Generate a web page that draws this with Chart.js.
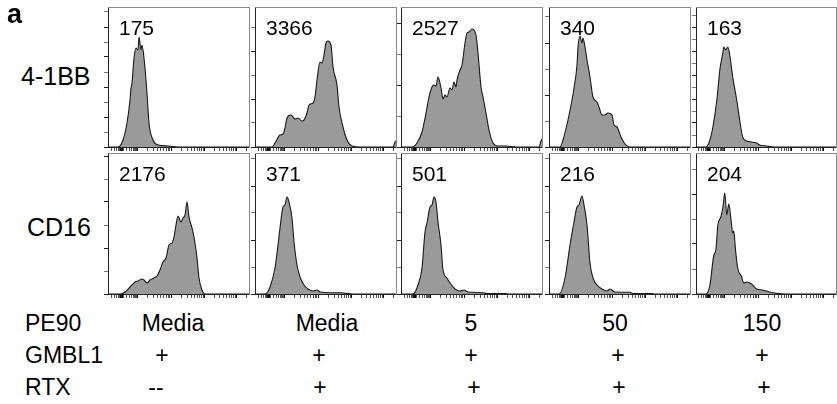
<!DOCTYPE html>
<html>
<head>
<meta charset="utf-8">
<script src="https://cdn.jsdelivr.net/npm/chart.js@4.4.1/dist/chart.umd.min.js"></script>
<style>
  html, body { margin:0; padding:0; background:#fff; overflow:hidden; }
  body { width:837px; height:404px; position:relative; font-family:"Liberation Sans", Arial, Helvetica, sans-serif; color:#000; }
  .t { position:absolute; white-space:nowrap; }
  .p { position:absolute; }
</style>
</head>
<body>
<script>
// ---------- DATA ----------
const markers = ['4-1BB', 'CD16'];
const pe90 = ['Media', 'Media', '5', '50', '150'];
const gmbl1 = ['+', '+', '+', '+', '+'];
const rtx = ['--', '+', '+', '+', '+'];
const mfi41BB = [175, 3366, 2527, 340, 163];
const mfiCD16 = [2176, 371, 501, 216, 204];

// histogram channels (x) and event counts (y), 4-1BB row
const bb1Ch = [0,10,15,19,22,23,24,26,28,30,31,33,34,36,39,41,45,50,60,72,141];
const bb1Ct = [0,0,7,24,47,59,64,89,99,97,110,97,102,89,54,24,7,2,1,0,0];
const bb2Ch = [0,17,20,25,28,30,32,36,38,40,43,47,49,52,54,58,60,62,65,67,69,71,73,76,78,82,84,88,92,97,105,138,140,141];
const bb2Ct = [0,0,4,12,13,19,29,32,30,28,29,26,27,34,42,44,50,67,85,84,92,104,106,102,80,62,40,20,7,1,0,0,5,6];
const bb3Ch = [0,11,16,21,25,28,31,33,35,37,40,42,44,46,49,51,53,55,56,59,61,64,66,68,71,73,75,77,80,82,85,88,92,97,105,115,138,140,141];
const bb3Ct = [0,0,4,15,34,50,60,62,61,70,59,48,52,50,59,57,65,60,67,77,82,104,114,115,118,117,112,94,60,50,34,17,4,1,1,0,0,6,8];
const bb4Ch = [0,11,14,19,23,25,28,29,31,33,34,36,38,41,44,48,50,53,56,59,63,65,68,72,76,81,141];
const bb4Ct = [0,0,7,27,47,59,82,100,111,104,109,100,87,70,50,45,40,32,32,34,32,22,20,10,3,0,0];
const bb5Ch = [0,10,14,17,21,24,27,28,30,32,34,37,41,44,47,51,56,61,64,71,79,141];
const bb5Ct = [0,0,7,20,47,77,94,100,97,100,92,70,47,27,10,6,5,4,2,1,0,0];

// CD16 row
const cd1Ch = [0,12,17,22,27,30,34,36,39,42,46,49,52,55,58,61,64,66,68,70,73,75,77,79,81,84,86,89,91,94,97,141];
const cd1Ct = [0,0,2,7,12,13,15,14,11,14,16,18,24,32,36,49,51,57,69,78,72,76,79,92,77,66,57,36,16,4,0,0];
const cd2Ch = [0,10,15,20,23,25,28,30,32,34,37,39,42,45,49,53,58,62,65,78,85,98,141];
const cd2Ct = [0,0,7,26,49,66,87,89,97,92,76,52,29,17,9,5,3,4,2,1.3,1.3,0,0];
const cd3Ch = [0,12,17,21,24,26,29,31,33,35,37,40,42,46,49,54,59,63,67,82,86,97,104,108,141];
const cd3Ct = [0,0,9,26,62,71,87,89,97,92,72,49,24,16,11,5,3,4,2,1.3,0.5,0.5,0.5,0,0];
const cd4Ch = [0,10,16,21,25,28,30,33,35,38,41,44,48,53,58,61,66,81,84,98,103,106,141];
const cd4Ct = [0,0,16,49,72,87,89,98,89,69,31,16,9,5,3,5,2,1.7,0.5,0.5,0.5,0,0];
const cd5Ch = [0,10,14,18,20,22,25,27,29,31,33,35,37,38,40,42,46,48,51,56,61,67,74,81,90,141];
const cd5Ct = [0,0,9,39,44,69,77,86,101,79,90,77,61,63,42,26,17,11,12,10,5,4,2,0.7,0,0];

// axis ticks (channel units): biexponential-style x ticks
const xMajorTicks = [13, 29, 63, 96, 128];
const xMinorTicks = [3,6,8,10,11,12,15,18,21,23,25,26,27,28,
  39,45,49,52,55,58,60,61,
  73,79,83,86,89,91,93,95,
  106,111,115,118,121,123,125,127,
  138];
const yTickStep = [15, 24, 31, 26, 12, 23, 27, 27, 27, 25];

// ---------- LAYOUT ----------
const colLeft = [108, 255, 401, 549, 696];
const colWidth = [141, 141, 141, 141, 140];
const rowTop = [7, 153];
const rowHeight = [140, 141];
const TICK = 4;

const histCh = [[bb1Ch,bb2Ch,bb3Ch,bb4Ch,bb5Ch],[cd1Ch,cd2Ch,cd3Ch,cd4Ch,cd5Ch]];
const histCt = [[bb1Ct,bb2Ct,bb3Ct,bb4Ct,bb5Ct],[cd1Ct,cd2Ct,cd3Ct,cd4Ct,cd5Ct]];
const mfis = [mfi41BB, mfiCD16];

function addText(str, x, baseline, size, opts) {
  opts = opts || {};
  const d = document.createElement('div');
  d.className = 't';
  d.textContent = str;
  d.style.fontSize = size + 'px';
  d.style.lineHeight = size + 'px';
  d.style.top = (baseline - 0.8465 * size) + 'px';
  if (opts.bold) d.style.fontWeight = 'bold';
  if (opts.center) { d.style.left = x + 'px'; d.style.transform = 'translateX(-50%)'; }
  else d.style.left = x + 'px';
  document.body.appendChild(d);
}

const xTickVals = xMajorTicks.concat(xMinorTicks).sort((a,b)=>a-b);

function makePanel(r, c) {
  const L = colLeft[c], T = rowTop[r], W = colWidth[c], H = rowHeight[r];
  const wrap = document.createElement('div');
  wrap.className = 'p';
  wrap.style.left = (L - TICK) + 'px';
  wrap.style.top = (T - 1) + 'px';
  const cv = document.createElement('canvas');
  cv.width = W + TICK + 1; cv.height = H + TICK + 1;
  cv.style.width = cv.width + 'px'; cv.style.height = cv.height + 'px';
  wrap.appendChild(cv);
  document.body.appendChild(wrap);

  const ch = histCh[r][c], ct = histCt[r][c];
  const step = yTickStep[r * 5 + c];
  const pts = ch.map((v, i) => ({ x: v, y: ct[i] }));

  new Chart(cv.getContext('2d'), {
    type: 'line',
    data: { datasets: [{
      data: pts, fill: 'origin', backgroundColor: '#9a9a9a', borderColor: '#1a1a1a',
      borderWidth: 1.1, pointRadius: 0, cubicInterpolationMode: 'monotone', clip: 0
    }]},
    options: {
      responsive: false, animation: false, devicePixelRatio: 1,
      layout: { padding: { top: 1, right: 1, left: 0, bottom: 0 } },
      plugins: { legend: { display: false }, tooltip: { enabled: false } },
      scales: {
        x: {
          type: 'linear', position: 'bottom', min: 0, max: 141,
          grid: { drawOnChartArea: false, drawTicks: true, tickLength: TICK,
            tickColor: ctx => (ctx.tick && xMajorTicks.includes(ctx.tick.value)) ? '#111' : '#555',
            tickWidth: ctx => (ctx.tick && ctx.tick.value === 13) ? 3 : 1 },
          border: { display: true, color: '#222', width: 1 },
          ticks: { display: false },
          afterBuildTicks: s => { s.ticks = xTickVals.map(v => ({ value: v })); }
        },
        y: {
          type: 'linear', position: 'left', min: 0, max: H,
          grid: { drawOnChartArea: false, drawTicks: true, tickLength: TICK,
            tickColor: ctx => (ctx.index % 2 === 0) ? '#222' : '#777' },
          border: { display: true, color: '#222', width: 1 },
          ticks: { display: false },
          afterBuildTicks: s => { const t = []; for (let v = 0; v <= H; v += step) t.push({ value: v }); s.ticks = t; }
        },
        xTop: {
          type: 'linear', position: 'top', min: 0, max: 1,
          grid: { display: false, drawTicks: false, tickLength: 0 },
          border: { display: true, color: '#8a8a8a', width: 1 },
          ticks: { display: false }
        },
        yRight: {
          type: 'linear', position: 'right', min: 0, max: 1,
          grid: { display: false, drawTicks: false, tickLength: 0 },
          border: { display: true, color: '#8a8a8a', width: 1 },
          ticks: { display: false }
        }
      }
    }
  });

  addText(String(mfis[r][c]), L + 11, T + 28, 21);
}

for (let r = 0; r < 2; r++) for (let c = 0; c < 5; c++) makePanel(r, c);

// labels
addText('a', 7, 24, 27, { bold: true });
addText(markers[0], 21, 85, 25);
addText(markers[1], 27, 236, 25);

const rowNames = ['PE90', 'GMBL1', 'RTX'];
const rowBase = [331, 363, 395];
const rowVals = [pe90, gmbl1, rtx];
const rowCenters = [[173, 327, 471, 615, 762], [162, 319, 471, 618, 762], [156, 320, 474, 619, 764]];
for (let i = 0; i < 3; i++) {
  addText(rowNames[i], 25, rowBase[i], 23);
  rowVals[i].forEach((v, j) => addText(v, rowCenters[i][j], rowBase[i], 23, { center: true }));
}
</script>
</body>
</html>
